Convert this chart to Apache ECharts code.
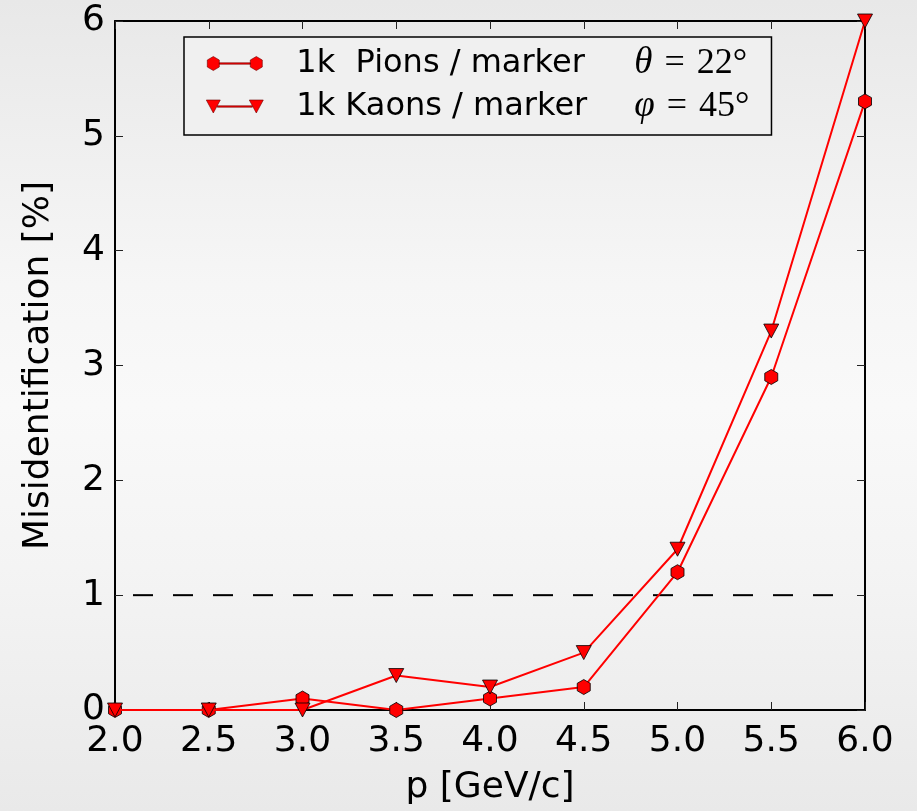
<!DOCTYPE html>
<html>
<head>
<meta charset="utf-8">
<script src="https://cdn.jsdelivr.net/npm/echarts@6/dist/echarts.min.js"></script>
<style>
html,body{margin:0;padding:0;overflow:hidden;}
body{width:917px;height:811px;background:linear-gradient(to bottom,#e8e8e8 0%,#f6f6f6 35%,#f9f9f9 50%,#f4f4f4 70%,#e9e9e9 100%);}
#chart{width:917px;height:811px;}
</style>
</head>
<body>
<div id="chart"></div>
<script>
// ---- data ----
var momentum = [2.0, 2.5, 3.0, 3.5, 4.0, 4.5, 5.0, 5.5, 6.0];
var pionValues = [0, 0, 0.1, 0, 0.1, 0.2, 1.2, 2.9, 5.3];
var kaonValues = [0, 0, 0, 0.3, 0.2, 0.5, 1.4, 3.3, 6.0];
var seriesNames = ['1k  Pions / marker', '1k Kaons / marker'];
var mathSymbols = ['θ', 'φ'];
var mathValues = ['\u2004=\u200422°', '\u2004=\u200445°'];
var thresholdLevel = 1;
var thresholdRange = [2.0, 5.85];

function pairs(xs, ys) { return xs.map(function (x, i) { return [x, ys[i]]; }); }

var hexPath = 'path://M0,-1 L0.866,-0.5 L0.866,0.5 L0,1 L-0.866,0.5 L-0.866,-0.5 Z';
var triPath = 'path://M-1,-1 L1,-1 L0,1 Z';
// legend glyphs: two markers joined by a short bar
var hexLegend = 'path://M7,0 L13,3.5 L13,10.5 L7,14 L1,10.5 L1,3.5 Z ' +
                'M50,0 L56,3.5 L56,10.5 L50,14 L44,10.5 L44,3.5 Z ' +
                'M13,6.3 L44,6.3 L44,7.7 L13,7.7 Z M0,7 L0.01,7 M57,7 L56.99,7';
var triLegend = 'path://M0,0.5 L14,0.5 L7,13.5 Z M43,0.5 L57,0.5 L50,13.5 Z ' +
                'M11,6.3 L46,6.3 L46,7.7 L11,7.7 Z M0,0 L0.01,0 M0,14 L0.01,14';

var chart = echarts.init(document.getElementById('chart'), null, {renderer: 'canvas'});
var font = 'DejaVu Sans';
var option = {
  backgroundColor: 'transparent',
  animation: false,
  grid: {left: 115, top: 21, right: 52, bottom: 98},
  xAxis: [{
    type: 'value', min: 2, max: 6, interval: 0.5, position: 'bottom',
    name: 'p [GeV/c]', nameLocation: 'middle', nameGap: 60,
    nameTextStyle: {fontFamily: font, fontSize: 36, color: '#000'},
    axisLine: {show: true, onZero: false, lineStyle: {color: '#000', width: 2}},
    axisTick: {show: true, inside: true, length: 8, lineStyle: {color: '#222', width: 1}},
    axisLabel: {fontFamily: font, fontSize: 36, color: '#000', margin: 14,
      formatter: function (v) { return v.toFixed(1); }},
    splitLine: {show: false}
  }, {
    type: 'value', min: 2, max: 6, interval: 0.5, position: 'top',
    axisLine: {show: true, onZero: false, lineStyle: {color: '#000', width: 2}},
    axisTick: {show: true, inside: true, length: 8, lineStyle: {color: '#222', width: 1}},
    axisLabel: {show: false}, splitLine: {show: false}
  }],
  yAxis: [{
    type: 'value', min: 0, max: 6, interval: 1, position: 'left',
    name: 'Misidentification [%]', nameLocation: 'middle', nameGap: 58,
    nameTextStyle: {fontFamily: font, fontSize: 36, color: '#000'},
    axisLine: {show: true, onZero: false, lineStyle: {color: '#000', width: 2}},
    axisTick: {show: true, inside: true, length: 8, lineStyle: {color: '#222', width: 1}},
    axisLabel: {fontFamily: font, fontSize: 36, color: '#000', margin: 10},
    splitLine: {show: false}
  }, {
    type: 'value', min: 0, max: 6, interval: 1, position: 'right',
    axisLine: {show: true, onZero: false, lineStyle: {color: '#000', width: 2}},
    axisTick: {show: true, inside: true, length: 8, lineStyle: {color: '#222', width: 1}},
    axisLabel: {show: false}, splitLine: {show: false}
  }],
  legend: {
    orient: 'vertical', left: 184, top: 37,
    padding: [8, 22, 10, 22], itemGap: 6,
    itemWidth: 57, itemHeight: 14,
    borderColor: '#000', borderWidth: 1.5, backgroundColor: '#f0f0f0', borderRadius: 0,
    itemStyle: {color: '#ff0000', borderColor: '#700000', borderWidth: 0.6},
    data: [{name: seriesNames[0], icon: hexLegend}, {name: seriesNames[1], icon: triLegend}],
    formatter: function (name) {
      var i = seriesNames.indexOf(name);
      return '{a|' + name + '}{m|' + mathSymbols[i] + '}{b|' + mathValues[i] + '}';
    },
    textStyle: {
      lineHeight: 36,
      rich: {
        a: {fontFamily: font, fontSize: 32, color: '#000', width: 338, padding: [0, 0, 0, 28], lineHeight: 36},
        m: {fontFamily: 'Liberation Serif', fontStyle: 'italic', fontSize: 37, color: '#000', lineHeight: 36},
        b: {fontFamily: 'Liberation Serif', fontSize: 36, color: '#000', lineHeight: 36}
      }
    }
  },
  series: [{
    name: seriesNames[0], type: 'line', xAxisIndex: 0, yAxisIndex: 0,
    data: pairs(momentum, pionValues),
    symbol: hexPath, symbolSize: [13, 15], symbolKeepAspect: false,
    lineStyle: {color: '#ff0000', width: 2},
    itemStyle: {color: '#ff0000', borderColor: '#000', borderWidth: 0.8},
    clip: false, z: 3
  }, {
    name: seriesNames[1], type: 'line', xAxisIndex: 0, yAxisIndex: 0,
    data: pairs(momentum, kaonValues),
    symbol: triPath, symbolSize: [15, 14], symbolKeepAspect: false,
    lineStyle: {color: '#ff0000', width: 2},
    itemStyle: {color: '#ff0000', borderColor: '#000', borderWidth: 0.8},
    clip: false, z: 4
  }, {
    name: 'threshold', type: 'line', xAxisIndex: 0, yAxisIndex: 0,
    data: [[thresholdRange[0], thresholdLevel], [thresholdRange[1], thresholdLevel]],
    symbol: 'none', silent: true,
    lineStyle: {color: '#000', width: 2, type: [20, 20], dashOffset: 22},
    z: 2
  }]
};
chart.setOption(option);
</script>
</body>
</html>
